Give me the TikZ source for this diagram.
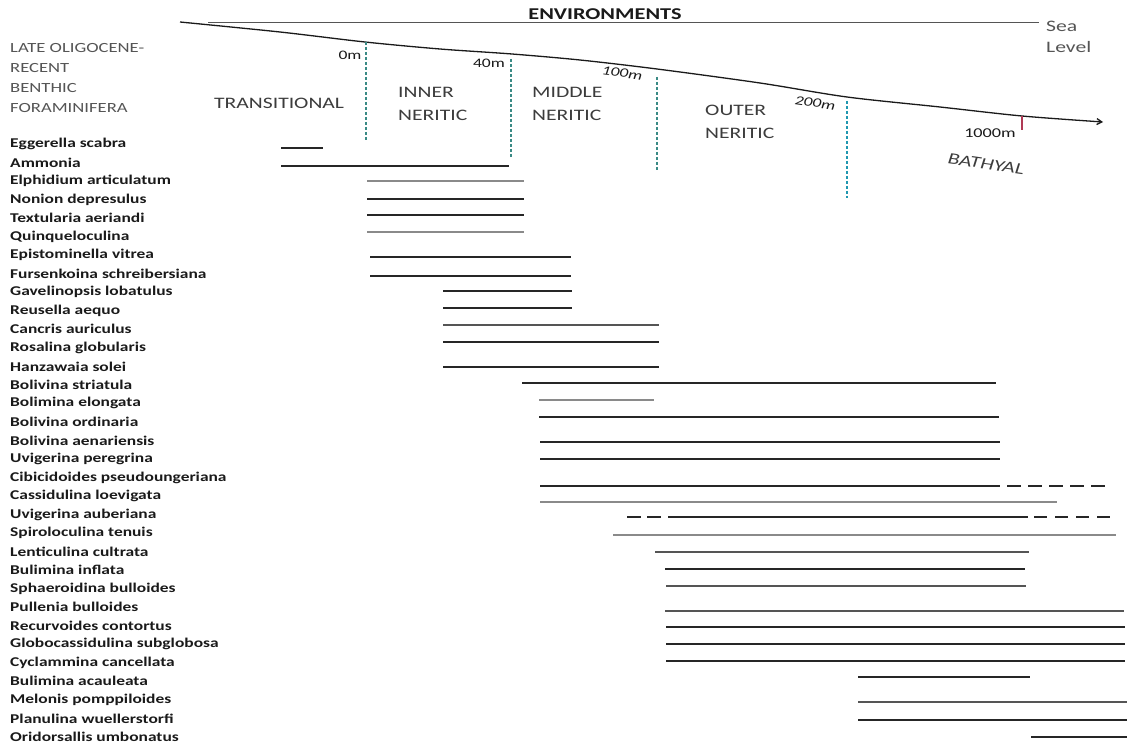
\documentclass[tikz,border=0pt]{standalone}
\usepackage{fontspec}
\setmainfont{Carlito}
\usetikzlibrary{arrows.meta}
\newcommand{\hs}[2][1.38]{\scalebox{#1}[1]{#2}}
\definecolor{ink}{HTML}{1A1A1A}
\definecolor{hdr}{HTML}{555555}
\definecolor{envc}{HTML}{3C3C3C}
\definecolor{tealA}{HTML}{3A8A85}
\definecolor{tealB}{HTML}{2097B0}
\definecolor{barD}{HTML}{262626}
\definecolor{barM}{HTML}{555555}
\definecolor{barG}{HTML}{8A8A8A}
\definecolor{tickred}{HTML}{B03A55}
\tikzset{
  sp/.style={anchor=west, inner sep=0pt, font=\bfseries\fontsize{13.4}{15}\selectfont, text=ink},
  hd/.style={anchor=west, inner sep=0pt, font=\fontsize{14}{16}\selectfont, text=hdr},
  env/.style={anchor=west, inner sep=0pt, font=\fontsize{16}{18}\selectfont, text=envc},
  dlab/.style={inner sep=0pt, font=\fontsize{13}{15}\selectfont, text=ink},
  dlabi/.style={inner sep=0pt, font=\itshape\fontsize{13}{15}\selectfont, text=ink, rotate=-8},
  bar/.style={line width=2.2pt, draw=barD},
  barm/.style={line width=2pt, draw=barM},
  barg/.style={line width=1.8pt, draw=barG},
  barthin/.style={line width=1.1pt, draw=barG},
  depA/.style={draw=tealA, line width=1.4pt, dash pattern=on 3pt off 2pt},
  depB/.style={draw=tealB, line width=1.4pt, dash pattern=on 3pt off 2pt},
}
\begin{document}
\begin{tikzpicture}[x=1pt,y=-1pt]
\path[use as bounding box, fill=white] (0,0) rectangle (1127,746);

% header
\node[inner sep=0pt, font=\bfseries\fontsize{16.5}{18}\selectfont, text=ink] (envt) at (605,14) {\hs[1.35]{ENVIRONMENTS}};
\coordinate (slA) at (208,23);
\coordinate (slB) at (1039,23);
\draw[draw=hdr, line width=1pt] (slA) -- (slB);
\node[anchor=west, inner sep=0pt, font=\fontsize{16}{18}\selectfont, text=hdr] (sea) at (1046,26) {\hs[1.35]{Sea}};
\node[anchor=west, inner sep=0pt, font=\fontsize{16}{18}\selectfont, text=hdr] (lev) at (1046,47) {\hs[1.35]{Level}};
\draw[line width=1.3pt, draw=ink, -{Straight Barb[length=5pt,width=6pt]}] plot[smooth, tension=0.5] coordinates {(180,22) (280,32) (365,42) (440,49) (512,54) (580,60) (657,69) (760,83) (847,97) (940,107) (1022,116) (1103,122)};

\node[hd] (h1) at (10,48) {\hs[1.33]{LATE OLIGOCENE-}};
\node[hd] (h2) at (10,68) {\hs[1.33]{RECENT}};
\node[hd] (h3) at (10,88) {\hs[1.33]{BENTHIC}};
\node[hd] (h4) at (10,108) {\hs[1.33]{FORAMINIFERA}};

\node[env] (e1) at (214,103) {\hs[1.35]{TRANSITIONAL}};
\node[env] (e2) at (398,92) {\hs[1.35]{INNER}};
\node[env] (e3) at (398,115) {\hs[1.35]{NERITIC}};
\node[env] (e4) at (532,92) {\hs[1.35]{MIDDLE}};
\node[env] (e5) at (532,115) {\hs[1.35]{NERITIC}};
\node[env] (e6) at (705,110) {\hs[1.35]{OUTER}};
\node[env] (e7) at (705,133) {\hs[1.35]{NERITIC}};
\node[env, font=\itshape\fontsize{16}{18}\selectfont, anchor=center, rotate=-8] (e8) at (986,164) {\hs[1.35]{BATHYAL}};

% depth marks
\node[dlab] (d0) at (350,55) {\hs[1.35]{0m}};
\node[dlab] (d40) at (489,63) {\hs[1.35]{40m}};
\node[dlabi] (d100) at (622,73) {\hs[1.35]{100m}};
\node[dlabi] (d200) at (815,103) {\hs[1.35]{200m}};
\node[dlab, font=\fontsize{13.5}{15}\selectfont] (d1000) at (990,133) {\hs[1.35]{1000m}};
\draw[depA] (366,42) -- (366,140);
\draw[depA] (511,59) -- (511,157);
\draw[depA] (657,77) -- (657,170);
\draw[depB] (847,101) -- (847,198);
\draw[draw=tickred, line width=1.1pt] (1022,116) -- (1022,130);

% species labels
\node[sp] (s1) at (10,144) {\hs[1.3]{Eggerella scabra}};
\node[sp] (s2) at (10,162.5) {\hs[1.3]{Ammonia}};
\node[sp] (s3) at (10,181) {\hs[1.3]{Elphidium articulatum}};
\node[sp] (s4) at (10,199.6) {\hs[1.3]{Nonion depresulus}};
\node[sp] (s5) at (10,218.1) {\hs[1.3]{Textularia aeriandi}};
\node[sp] (s6) at (10,236.7) {\hs[1.3]{Quinqueloculina}};
\node[sp] (s7) at (10,255.2) {\hs[1.3]{Epistominella vitrea}};
\node[sp] (s8) at (10,273.7) {\hs[1.3]{Fursenkoina schreibersiana}};
\node[sp] (s9) at (10,292.2) {\hs[1.3]{Gavelinopsis lobatulus}};
\node[sp] (s10) at (10,310.8) {\hs[1.3]{Reusella aequo}};
\node[sp] (s11) at (10,329.3) {\hs[1.3]{Cancris auriculus}};
\node[sp] (s12) at (10,347.8) {\hs[1.3]{Rosalina globularis}};
\node[sp] (s13) at (10,366.4) {\hs[1.3]{Hanzawaia solei}};
\node[sp] (s14) at (10,384.9) {\hs[1.3]{Bolivina striatula}};
\node[sp] (s15) at (10,403.4) {\hs[1.3]{Bolimina elongata}};
\node[sp] (s16) at (10,421.9) {\hs[1.3]{Bolivina ordinaria}};
\node[sp] (s17) at (10,440.5) {\hs[1.3]{Bolivina aenariensis}};
\node[sp] (s18) at (10,459) {\hs[1.3]{Uvigerina peregrina}};
\node[sp] (s19) at (10,477.5) {\hs[1.3]{Cibicidoides pseudoungeriana}};
\node[sp] (s20) at (10,496) {\hs[1.3]{Cassidulina loevigata}};
\node[sp] (s21) at (10,514.6) {\hs[1.3]{Uvigerina auberiana}};
\node[sp] (s22) at (10,533.1) {\hs[1.3]{Spiroloculina tenuis}};
\node[sp] (s23) at (10,551.6) {\hs[1.3]{Lenticulina cultrata}};
\node[sp] (s24) at (10,570.2) {\hs[1.3]{Bulimina inflata}};
\node[sp] (s25) at (10,588.7) {\hs[1.3]{Sphaeroidina bulloides}};
\node[sp] (s26) at (10,607.2) {\hs[1.3]{Pullenia bulloides}};
\node[sp] (s27) at (10,625.7) {\hs[1.3]{Recurvoides contortus}};
\node[sp] (s28) at (10,644.3) {\hs[1.3]{Globocassidulina subglobosa}};
\node[sp] (s29) at (10,662.8) {\hs[1.3]{Cyclammina cancellata}};
\node[sp] (s30) at (10,681.3) {\hs[1.3]{Bulimina acauleata}};
\node[sp] (s31) at (10,699.8) {\hs[1.3]{Melonis pomppiloides}};
\node[sp] (s32) at (10,718.4) {\hs[1.3]{Planulina wuellerstorfi}};
\node[sp] (s33) at (10,736.9) {\hs[1.3]{Oridorsallis umbonatus}};

% range bars
\draw[bar] (281,148) -- (323,148);
\draw[bar] (281,166) -- (509,166);
\draw[barg] (367,181) -- (524,181);
\draw[bar] (367,199) -- (524,199);
\draw[bar] (367,215) -- (524,215);
\draw[barg] (367,232) -- (524,232);
\draw[bar] (370,257) -- (571,257);
\draw[bar] (370,276) -- (571,276);
\draw[bar] (443,291) -- (572,291);
\draw[bar] (443,308) -- (572,308);
\draw[barm] (443,325) -- (659,325);
\draw[bar] (443,342) -- (659,342);
\draw[bar] (443,367) -- (659,367);
\draw[bar] (522,383) -- (996,383);
\draw[barg] (539,400) -- (654,400);
\draw[bar] (539,417) -- (999,417);
\draw[bar] (540,442) -- (1000,442);
\draw[bar] (540,459) -- (1000,459);
\draw[bar] (540,486) -- (1000,486);
\draw[bar, dash pattern=on 14pt off 7pt] (1007,486) -- (1105,486);
\draw[barg] (540,502) -- (1057,502);
\draw[bar, dash pattern=on 14pt off 6pt] (627,517) -- (662,517);
\draw[bar] (668,517) -- (1028,517);
\draw[bar, dash pattern=on 13pt off 8pt] (1034,517) -- (1111,517);
\draw[barthin] (613,535) -- (1116,535);
\draw[barm] (655,552) -- (1029,552);
\draw[bar] (665,569) -- (1025,569);
\draw[barm] (666,586) -- (1026,586);
\draw[barm] (665,611) -- (1124,611);
\draw[bar] (666,627) -- (1125,627);
\draw[bar] (666,644) -- (1125,644);
\draw[bar] (666,661) -- (1125,661);
\draw[bar] (858,677) -- (1030,677);
\draw[barm] (858,702) -- (1127,702);
\draw[bar] (858,720) -- (1127,720);
\draw[bar] (1031,737) -- (1127,737);
\end{tikzpicture}
\end{document}
